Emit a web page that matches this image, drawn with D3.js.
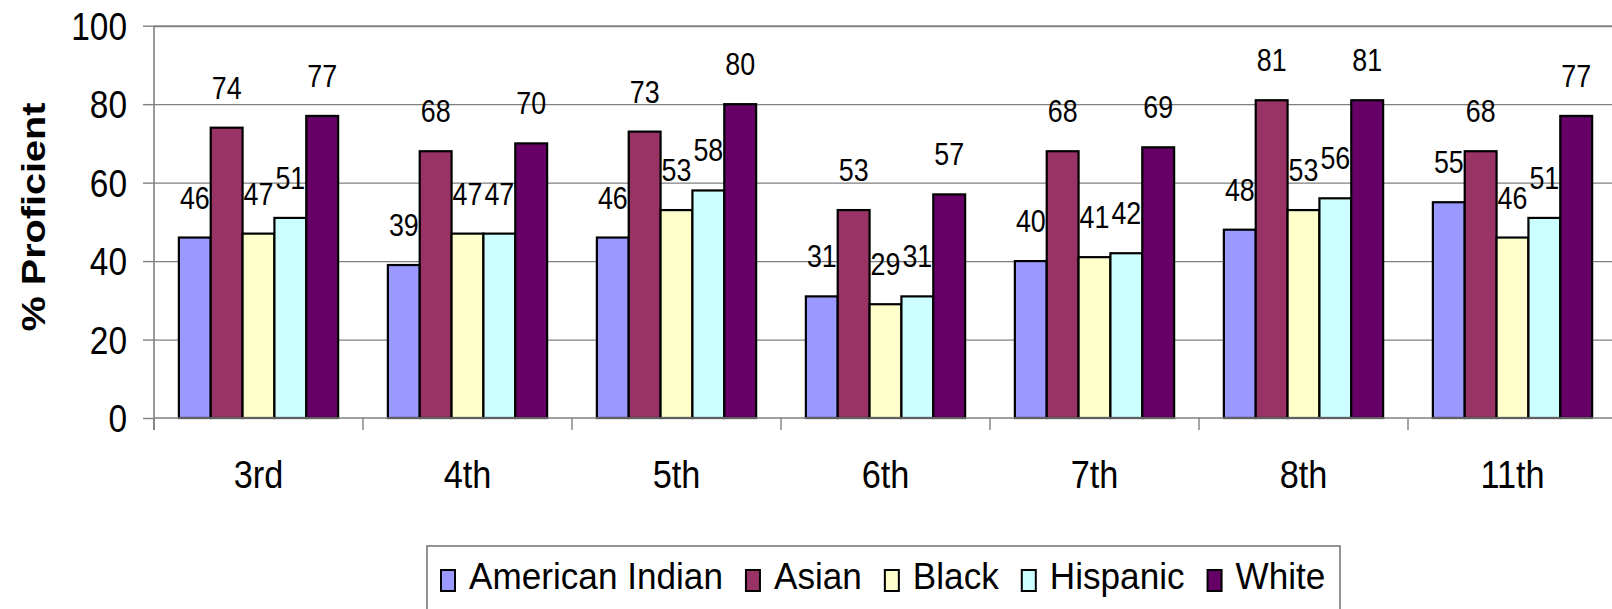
<!DOCTYPE html>
<html>
<head>
<meta charset="utf-8">
<script src="https://cdn.jsdelivr.net/npm/d3@7"></script>
<style>
  html, body { margin: 0; padding: 0; background: #ffffff; }
  svg { display: block; font-family: "Liberation Sans", Arial, sans-serif; }
</style>
</head>
<body>
<svg id="chart" width="1612" height="609"></svg>
<script>
const categories = ["3rd", "4th", "5th", "6th", "7th", "8th", "11th"];
const seriesNames = ["American Indian", "Asian", "Black", "Hispanic", "White"];
const americanIndian = [46, 39, 46, 31, 40, 48, 55];
const asian = [74, 68, 73, 53, 68, 81, 68];
const black = [47, 47, 53, 29, 41, 53, 46];
const hispanic = [51, 47, 58, 31, 42, 56, 51];
const white = [77, 70, 80, 57, 69, 81, 77];
const yTicks = [0, 20, 40, 60, 80, 100];
const seriesColors = ["#9999FF", "#993366", "#FFFFCC", "#CCFFFF", "#660066"];
const yTitle = "% Proficient";

const seriesValues = [americanIndian, asian, black, hispanic, white];

(function draw() {
const svg = d3.select("#chart");
const plotLeft = 154, plotTop = 25.7, plotBottom = 418, catW = 209;
const plotRight = plotLeft + catW * categories.length;
const SQ = 0.88;

const x0 = d3.scaleBand().domain(categories).range([plotLeft, plotRight]).padding(0);
const x1 = d3.scaleBand().domain(seriesNames)
  .range([x0.bandwidth() * 0.119, x0.bandwidth() * 0.881]).padding(0);
const y = d3.scaleLinear().domain([0, 100]).range([plotBottom, plotTop]);
const color = d3.scaleOrdinal().domain(seriesNames).range(seriesColors);

function squish(sel, tx, ty, k) {
  sel.attr("x", 0).attr("y", 0).attr("dy", null)
     .attr("transform", `translate(${tx},${ty}) scale(${k || SQ},1)`);
}

// gridlines
const grid = svg.append("g").attr("transform", `translate(${plotLeft},0)`)
  .call(d3.axisLeft(y).tickValues(yTicks.filter(v => v > 0)).tickSize(-(plotRight - plotLeft)).tickFormat(""));
grid.select(".domain").remove();
grid.selectAll(".tick line").attr("stroke", "#808080")
  .attr("stroke-width", d => d === 100 ? 2 : 1.3);

// bars
const rows = categories.map((c, i) => ({ cat: c, vals: seriesNames.map((s, j) => ({ s, v: seriesValues[j][i] })) }));
const gCat = svg.append("g").selectAll("g").data(rows).join("g")
  .attr("transform", d => `translate(${x0(d.cat)},0)`);
gCat.selectAll("rect").data(d => d.vals).join("rect")
  .attr("x", d => x1(d.s))
  .attr("y", d => y(d.v))
  .attr("width", x1.bandwidth())
  .attr("height", d => y(0) - y(d.v))
  .attr("fill", d => color(d.s))
  .attr("stroke", "#000")
  .attr("stroke-width", 2.2);

// data labels
gCat.selectAll("text").data(d => d.vals).join("text")
  .attr("text-anchor", "middle")
  .attr("font-size", 30.5)
  .attr("fill", "#000")
  .text(d => d.v)
  .each(function(d) { squish(d3.select(this), x1(d.s) + x1.bandwidth() / 2, y(d.v) - 29); });

// y axis
const yAxis = svg.append("g").attr("transform", `translate(${plotLeft},0)`)
  .call(d3.axisLeft(y).tickValues(yTicks).tickSize(11).tickSizeOuter(0).tickPadding(16));
yAxis.select(".domain").attr("stroke", "#808080").attr("stroke-width", 1.6)
  .attr("d", `M0,${plotTop}V${plotBottom + 12}`);
yAxis.selectAll(".tick line").attr("stroke", "#808080").attr("stroke-width", 1.4);
yAxis.selectAll(".tick text").attr("font-size", 38).attr("fill", "#000")
  .attr("font-family", "Liberation Sans, Arial, sans-serif")
  .each(function() { squish(d3.select(this), -27, 13.5); });

// x axis
const boundaries = d3.range(categories.length + 1).map(i => plotLeft + i * catW);
const xAxisG = svg.append("g");
xAxisG.append("line").attr("x1", plotLeft).attr("x2", plotRight).attr("y1", plotBottom).attr("y2", plotBottom)
  .attr("stroke", "#808080").attr("stroke-width", 1.6);
xAxisG.selectAll("line.tk").data(boundaries).join("line").attr("class", "tk")
  .attr("x1", d => d).attr("x2", d => d).attr("y1", plotBottom).attr("y2", plotBottom + 12)
  .attr("stroke", "#808080").attr("stroke-width", 1.4);
xAxisG.selectAll("text").data(categories).join("text")
  .attr("text-anchor", "middle").attr("font-size", 39).attr("fill", "#000")
  .text(d => d)
  .each(function(d) { squish(d3.select(this), x0(d) + x0.bandwidth() / 2, 488); });

// y title
svg.append("text")
  .attr("transform", "translate(45,217) rotate(-90)")
  .attr("text-anchor", "middle")
  .attr("font-size", 34).attr("font-weight", "bold").attr("fill", "#000")
  .attr("textLength", 229).attr("lengthAdjust", "spacingAndGlyphs")
  .text(yTitle);

// legend
const leg = svg.append("g");
leg.append("rect").attr("x", 427).attr("y", 546).attr("width", 913).attr("height", 70)
  .attr("fill", "#fff").attr("stroke", "#707070").attr("stroke-width", 1.5);
let lx = 441;
const LSQ = 0.95;
seriesNames.forEach((s) => {
  leg.append("rect").attr("x", lx).attr("y", 570).attr("width", 14).attr("height", 21)
    .attr("fill", color(s)).attr("stroke", "#000").attr("stroke-width", 2);
  const t = leg.append("text").attr("font-size", 37).attr("fill", "#000").text(s);
  squish(t, lx + 28, 589, LSQ);
  const w = t.node().getComputedTextLength() * LSQ;
  lx = lx + 28 + w + 23;
});
})();
</script>
</body>
</html>
